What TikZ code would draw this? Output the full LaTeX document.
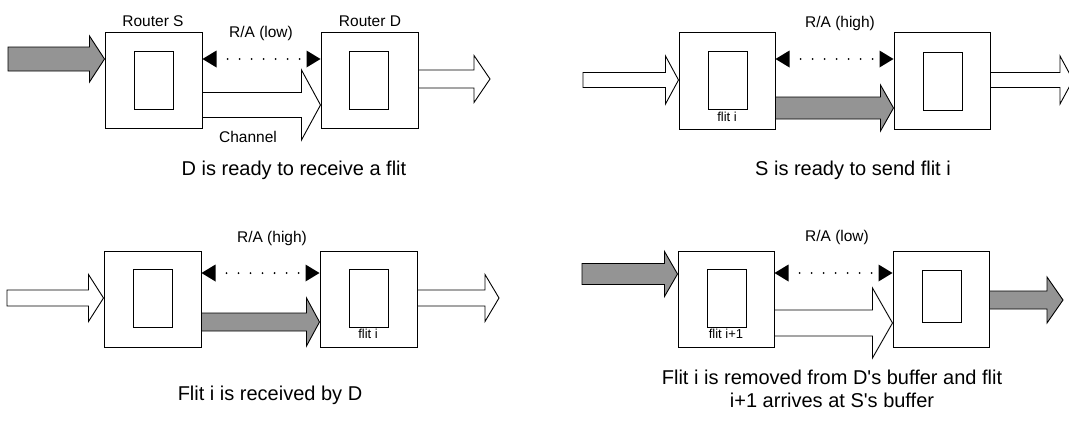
\documentclass[tikz,border=0pt]{standalone}
\usepackage{fontspec}
\setmainfont{Liberation Sans}[Ligatures=TeXOff]
\usetikzlibrary{arrows.meta,calc}
\tikzset{
  router/.style={draw, line width=1pt, minimum width=97pt, minimum height=96pt, inner sep=0pt},
  buffer/.style={draw, line width=1pt, minimum width=39pt, minimum height=58pt, inner sep=0pt},
  whitearr/.style={draw, fill=white, line width=0.9pt, line join=miter},
  grayarr/.style={draw, fill=black!42, line width=0.9pt, line join=miter},
  ra/.style={line width=2pt, line cap=round, dash pattern=on 0pt off 12pt, dash phase=1pt,
     {Triangle[length=14pt,width=17pt,line width=0pt]}-{Triangle[length=14pt,width=17pt,line width=0pt]}},
  small/.style={font=\fontsize{15.5}{18}\selectfont, inner sep=0pt},
  flit/.style={font=\fontsize{13}{15}\selectfont, inner sep=0pt},
  caption/.style={font=\fontsize{20}{24}\selectfont, inner sep=0pt, align=center}
}
\newcommand{\barrow}[6]{%
  \draw[#1] let \p1=(#2), \p2=(#3) in
    (\x1,\y1+#4pt) -- (\x2-#6pt,\y1+#4pt) -- (\x2-#6pt,\y1+#5pt) -- (\x2,\y1)
    -- (\x2-#6pt,\y1-#5pt) -- (\x2-#6pt,\y1-#4pt) -- (\x1,\y1-#4pt) -- cycle;}
\begin{document}
\begin{tikzpicture}[x=1pt,y=-1pt]
\useasboundingbox (0,0) rectangle (1069,423);
\clip (0,0) rectangle (1069,423);
% ---------- Panel 1 ----------
\node[router] (S1) at (153.5,80) {};
\node[router] (D1) at (369.5,80) {};
\node[buffer] (bS1) at (153.5,80) {};
\node[buffer] (bD1) at (369,80) {};
\coordinate (in1) at (8,59);
\coordinate (out1) at (490,79);
\barrow{grayarr}{in1}{[yshift=21pt]S1.west}{12}{23}{15}
\barrow{whitearr}{[yshift=-25pt]S1.east}{[yshift=-25pt]D1.west}{12.5}{35}{19}
\barrow{whitearr}{[yshift=1pt]D1.east}{out1}{9}{23.5}{16}
\draw[ra] ([yshift=21pt]S1.east) -- ([yshift=21pt]D1.west);
\node[small] (lS1) at (153,21) {Router S};
\node[small] (lD1) at (370,21) {Router D};
\node[small] (ra1) at (261,33) {R/A (low)};
\node[small] (ch1) at (248,137) {Channel};
\node[caption] (cap1) at (294,170) {D is ready to receive a flit};
% ---------- Panel 2 ----------
\node[router, minimum width=96pt, minimum height=97pt] (S2) at (727,80.5) {};
\node[router, minimum width=96pt, minimum height=97pt] (D2) at (942,80.5) {};
\node[buffer] (bS2) at (727.5,80.5) {};
\node[buffer] (bD2) at (942.5,81.5) {};
\node[flit] (f2) at (727,117) {flit i};
\coordinate (in2) at (583,80);
\coordinate (out2) at (1073,80);
\barrow{whitearr}{in2}{[yshift=0.5pt]S2.west}{7.5}{24}{13}
\barrow{grayarr}{[yshift=-27.5pt]S2.east}{[yshift=-27.5pt]D2.west}{11}{23}{13}
\barrow{whitearr}{[yshift=0.5pt]D2.east}{out2}{7.5}{24}{13}
\draw[ra] ([yshift=21.5pt]S2.east) -- ([yshift=21.5pt]D2.west);
\node[small] (ra2) at (840,23) {R/A (high)};
\node[caption] (cap2) at (853,170) {S is ready to send flit i};
% ---------- Panel 3 ----------
\node[router] (S3) at (152.5,299) {};
\node[router] (D3) at (368.5,299) {};
\node[buffer] (bS3) at (152.5,298.5) {};
\node[buffer] (bD3) at (368.5,298) {};
\node[flit] (f3) at (368,334) {flit i};
\coordinate (in3) at (7,298);
\coordinate (out3) at (499,298);
\barrow{whitearr}{in3}{[yshift=1pt]S3.west}{8}{23.5}{15}
\barrow{grayarr}{[yshift=-23pt]S3.east}{[yshift=-23pt]D3.west}{9}{24}{13}
\barrow{whitearr}{[yshift=1pt]D3.east}{out3}{8}{23.5}{14}
\draw[ra] ([yshift=26pt]S3.east) -- ([yshift=26pt]D3.west);
\node[small] (ra3) at (272,238) {R/A (high)};
\node[caption] (cap3) at (270,395) {Flit i is received by D};
% ---------- Panel 4 ----------
\node[router, minimum width=96pt] (S4) at (726,299) {};
\node[router, minimum width=96pt] (D4) at (941,299) {};
\node[buffer] (bS4) at (726.5,298) {};
\node[buffer, minimum height=52pt] (bD4) at (941.5,296) {};
\node[flit] (f4) at (726,334) {flit i+1};
\coordinate (in4) at (582,274);
\coordinate (out4) at (1063,300);
\barrow{grayarr}{in4}{[yshift=25pt]S4.west}{10.5}{22.5}{13}
\barrow{whitearr}{[yshift=-24pt]S4.east}{[yshift=-24pt]D4.west}{13}{35}{20}
\barrow{grayarr}{[yshift=-1pt]D4.east}{out4}{9}{23}{16}
\draw[ra] ([yshift=26pt]S4.east) -- ([yshift=26pt]D4.west);
\node[small] (ra4) at (837,237) {R/A (low)};
\node[caption] (cap4) at (832,389) {Flit i is removed from D's buffer and flit\\[-1.5pt] i+1 arrives at S's buffer};
\end{tikzpicture}
\end{document}
